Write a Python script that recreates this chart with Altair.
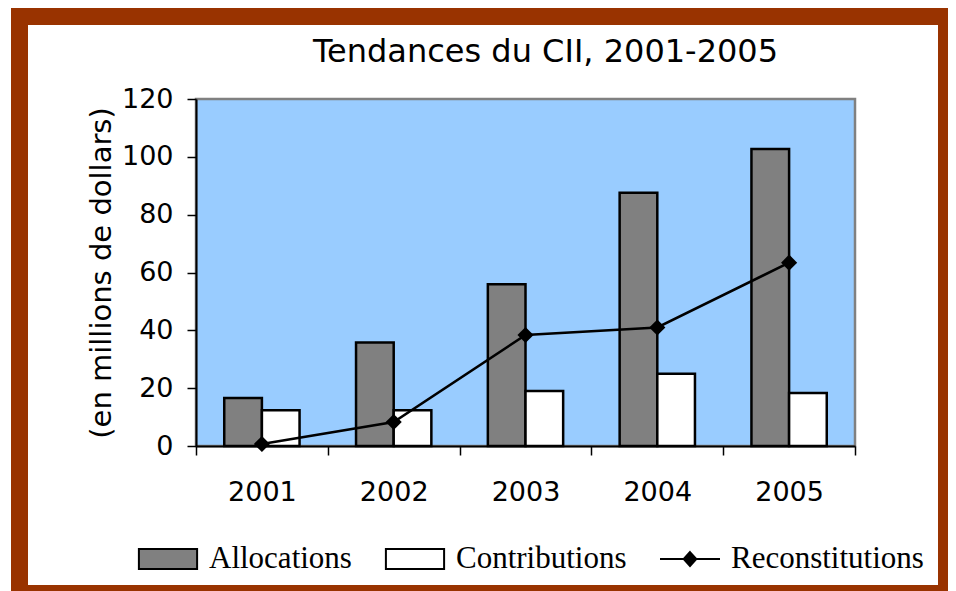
import altair as alt
import pandas as pd

# ---- data ----
years = ["2001", "2002", "2003", "2004", "2005"]
allocations = [16.6, 35.8, 55.9, 87.6, 102.7]
contributions = [12.4, 12.4, 19.0, 25.0, 18.3]
reconstitutions = [0.7, 8.3, 38.4, 41.0, 63.4]
series_names = ["Allocations", "Contributions", "Reconstitutions"]
series_colors = ["#808080", "#FFFFFF", "#000000"]
legend_strokes = ["#000000", "#000000", "#000000"]
legend_shapes = [
    "M-0.97,-0.33H0.97V0.33H-0.97Z",
    "M-0.97,-0.33H0.97V0.33H-0.97Z",
    "M-1,0H1M0,-0.23L0.21,0L0,0.23L-0.21,0Z",
]
y_ticks = [0, 20, 40, 60, 80, 100, 120]

bars_df = pd.DataFrame({
    "year": years * 2,
    "series": [series_names[0]] * len(years) + [series_names[1]] * len(years),
    "value": allocations + contributions,
})
line_df = pd.DataFrame({"year": years, "value": reconstitutions})
legend_df = pd.DataFrame({"series": series_names})
deco_df = pd.DataFrame({"d": [0]})

W, H = 659, 347
SANS = "DejaVu Sans"
SERIF = "Liberation Serif"

x_enc = alt.X(
    "year:N",
    title=None,
    scale=alt.Scale(paddingInner=0, paddingOuter=0),
    axis=alt.Axis(
        tickBand="extent", labelAngle=0, labelFont=SANS, labelFontSize=27,
        labelColor="black", labelPadding=24, tickSize=9, tickColor="black",
        tickWidth=1.5, domainColor="black", domainWidth=2, zindex=1,
    ),
)
y_enc = alt.Y(
    "value:Q",
    title="(en millions de dollars)",
    scale=alt.Scale(domain=[0, 120], nice=False),
    axis=alt.Axis(
        values=y_ticks, grid=False, labelFont=SANS, labelFontSize=27,
        labelColor="black", labelPadding=14, tickSize=9, tickColor="black",
        tickWidth=1.5, domainColor="black", domainWidth=2,
        titleFont=SANS, titleFontSize=29, titleFontWeight="normal",
        titleColor="black", titlePadding=5, zindex=1,
    ),
)

legend_def = alt.Legend(
    title=None, orient="none", legendX=-59, legendY=429,
    direction="horizontal", symbolSize=3600, labelFont=SERIF,
    labelFontSize=31, labelColor="black", labelOffset=10, labelLimit=0,
    columnPadding=29, padding=0, zindex=1,
    symbolStrokeColor="black", symbolStrokeWidth=2, symbolOpacity=1,
)
fill_scale = alt.Scale(domain=series_names, range=series_colors)

# plot-area background (light blue with grey border, like the Excel plot area)
plot_bg = alt.Chart(deco_df).mark_rect(
    fill="#99CCFF", stroke="#808080", strokeWidth=2.5
).encode(
    x=alt.value(0), x2=alt.value("width"),
    y=alt.value(0), y2=alt.value("height"),
)

bars = alt.Chart(bars_df).mark_bar(stroke="black", strokeWidth=2.5).encode(
    x=x_enc,
    y=y_enc,
    xOffset=alt.XOffset(
        "series:N",
        scale=alt.Scale(domain=series_names[:2], paddingInner=0, paddingOuter=0.75),
    ),
    fill=alt.Fill("series:N", scale=fill_scale, legend=legend_def),
)

line = alt.Chart(line_df).mark_line(
    color="black", strokeWidth=2.5,
    point=alt.OverlayMarkDef(shape="diamond", size=260, filled=True, color="black", opacity=1),
).encode(x=x_enc, y=y_enc)

# legend-only layer: no rows survive the filter, the legend comes from the scale domains
legend_layer = alt.Chart(legend_df).transform_filter("false").mark_point(
    filled=True, opacity=1, strokeWidth=2, size=3600
).encode(
    fill=alt.Fill("series:N", scale=fill_scale, legend=legend_def),
    stroke=alt.Stroke("series:N", scale=alt.Scale(domain=series_names, range=legend_strokes),
                      legend=legend_def),
    shape=alt.Shape("series:N", scale=alt.Scale(domain=series_names, range=legend_shapes),
                    legend=legend_def),
)

# maroon outer frame
frame = alt.Chart(deco_df).mark_rect(
    fillOpacity=0, stroke="#993300", strokeWidth=17
).encode(
    x=alt.value(-176.5), x2=alt.value(750.5),
    y=alt.value(-82.5), y2=alt.value(494.5),
)

chart = alt.layer(frame, plot_bg, bars, line, legend_layer).properties(
    width=W, height=H,
    background="white",
    title=alt.TitleParams(
        "Tendances du CII, 2001-2005", font=SANS, fontSize=32,
        fontWeight="normal", color="black", anchor="middle", frame="group",
        dx=20, offset=-86, baseline="alphabetic",
    ),
    autosize=alt.AutoSizeParams(type="none"),
    padding={"left": 188, "top": 91, "right": 93, "bottom": 145},
).configure_view(
    stroke="transparent"
)

chart.save("out.html", embed_options={"renderer": "svg", "actions": False})
